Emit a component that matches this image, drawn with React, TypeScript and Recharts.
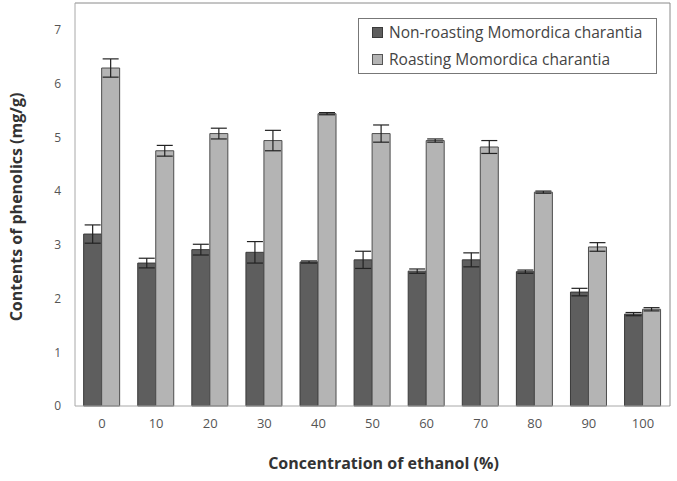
import {
  BarChart, Bar, XAxis, YAxis, ErrorBar, Legend, Label,
} from "recharts";

const concentrations = ["0", "10", "20", "30", "40", "50", "60", "70", "80", "90", "100"];
const nonRoasting    = [3.20, 2.66, 2.91, 2.86, 2.68, 2.72, 2.51, 2.72, 2.50, 2.12, 1.71];
const nonRoastingErr = [0.17, 0.09, 0.10, 0.20, 0.02, 0.16, 0.04, 0.13, 0.03, 0.07, 0.03];
const roasting       = [6.29, 4.75, 5.07, 4.94, 5.44, 5.07, 4.94, 4.82, 3.98, 2.96, 1.80];
const roastingErr    = [0.17, 0.10, 0.10, 0.19, 0.02, 0.16, 0.03, 0.12, 0.02, 0.08, 0.03];
const yTicks = [0, 1, 2, 3, 4, 5, 6, 7];

const data = concentrations.map((c, i) => ({
  conc: c,
  non: nonRoasting[i],
  nonErr: nonRoastingErr[i],
  roast: roasting[i],
  roastErr: roastingErr[i],
}));

const FONT = "'Open Sans', sans-serif";
const DARK = "#5e5e5e";
const LIGHT = "#b4b4b4";

function LegendBox() {
  const items = [
    { label: "Non-roasting Momordica charantia", fill: DARK, stroke: "#3a3a3a" },
    { label: "Roasting Momordica charantia", fill: LIGHT, stroke: "#555" },
  ];
  return (
    <div style={{
      border: "1px solid #777", background: "#fff", boxSizing: "border-box",
      width: 299, height: 56, padding: "0 0 0 13px", fontFamily: FONT,
      fontSize: 15.5, color: "#444", lineHeight: "27px",
    }}>
      {items.map((it) => (
        <div key={it.label} style={{ display: "flex", alignItems: "center", whiteSpace: "nowrap" }}>
          <span style={{
            display: "inline-block", width: 9, height: 9, background: it.fill,
            border: `1px solid ${it.stroke}`, marginRight: 6,
          }} />
          {it.label}
        </div>
      ))}
    </div>
  );
}

export default function App() {
  return (
    <div style={{ position: "absolute", left: 0, top: 0, background: "#fff" }}>
      <BarChart
        width={677}
        height={481}
        data={data}
        margin={{ top: 2, right: 6, left: 35, bottom: 45 }}
        barCategoryGap="16%"
        barGap={0}
      >
        <XAxis
          dataKey="conc"
          height={30}
          axisLine={{ stroke: "#a8a8a8" }}
          tickLine={false}
          tickSize={0}
          tickMargin={13}
          tick={{ fontSize: 13, fill: "#555", fontFamily: FONT }}
        >
          <Label
            content={({ viewBox }: any) => (
              <text
                x={viewBox.x + viewBox.width / 2 + 11}
                y={469}
                textAnchor="middle"
                fontFamily={FONT}
                fontWeight="bold"
                fontSize={16}
                fill="#333"
              >
                Concentration of ethanol (%)
              </text>
            )}
          />
        </XAxis>
        <XAxis xAxisId="top" dataKey="conc" orientation="top" height={1}
          tick={false} tickLine={false} axisLine={{ stroke: "#8a8a8a" }} />
        <YAxis
          domain={[0, 7.5]}
          ticks={yTicks}
          width={40}
          axisLine={{ stroke: "#a8a8a8" }}
          tickLine={false}
          tickSize={0}
          tickMargin={14}
          tick={{ fontSize: 12, fill: "#555", fontFamily: FONT }}
        >
          <Label
            content={() => (
              <text
                x={22}
                y={207}
                transform="rotate(-90 22 207)"
                textAnchor="middle"
                fontFamily={FONT}
                fontWeight="bold"
                fontSize={16}
                fill="#333"
              >
                Contents of phenolics (mg/g)
              </text>
            )}
          />
        </YAxis>
        <YAxis yAxisId="right" orientation="right" width={1} domain={[0, 7.5]}
          tick={false} tickLine={false} axisLine={{ stroke: "#8a8a8a" }} />
        <Legend
          layout="vertical"
          align="center"
          verticalAlign="middle"
          wrapperStyle={{ left: 358, top: 18, width: 299, height: 56 }}
          content={() => <LegendBox />}
        />
        <Bar dataKey="non" name="Non-roasting Momordica charantia" fill={DARK}
          stroke="#3a3a3a" strokeWidth={1} isAnimationActive={false}>
          <ErrorBar dataKey="nonErr" width={8} stroke="#222" strokeWidth={1.2} />
        </Bar>
        <Bar dataKey="roast" name="Roasting Momordica charantia" fill={LIGHT}
          stroke="#4d4d4d" strokeWidth={1} isAnimationActive={false}>
          <ErrorBar dataKey="roastErr" width={8} stroke="#222" strokeWidth={1.2} />
        </Bar>
      </BarChart>
    </div>
  );
}
